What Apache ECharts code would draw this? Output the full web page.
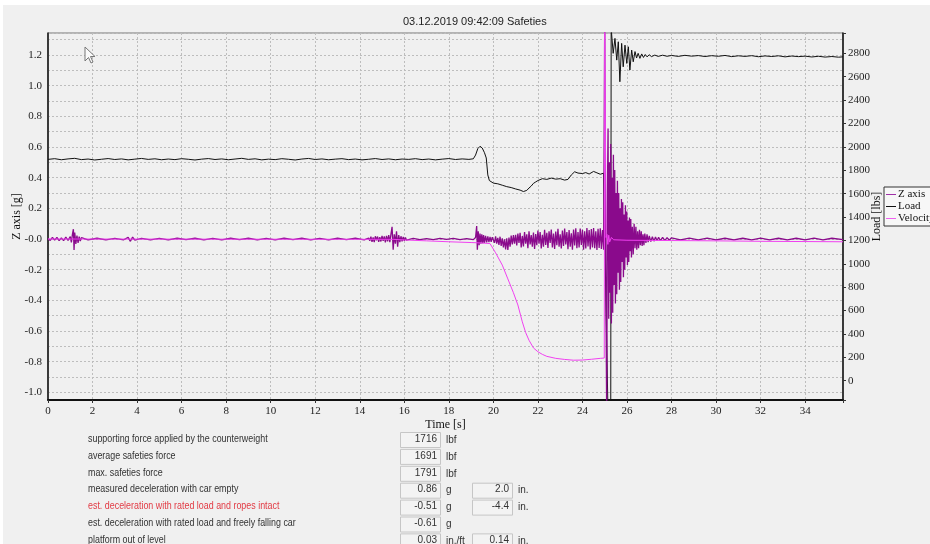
<!DOCTYPE html>
<html>
<head>
<meta charset="utf-8">
<title>Safeties</title>
<script src="https://cdn.jsdelivr.net/npm/echarts@6/dist/echarts.min.js"></script>
<style>
  html, body { margin: 0; padding: 0; background: #f0f0f0; }
  #chart { width: 930px; height: 544px; }
</style>
</head>
<body>
<div id="chart"></div>
<script>
// ---- measured signals: [time s, value] ----
// Z axis acceleration [g]
const zAxisG = [
  [0,0.004],[0.1,-0.009],[0.2,0.011],[0.3,-0.007],[0.4,0.01],[0.5,-0.011],[0.6,0.008],[0.7,-0.01],[0.8,0.012],[0.9,-0.009],
  [1.0,0.016],[1.05,-0.022],[1.1,0.034],[1.14,0.064],[1.17,-0.072],[1.2,0.042],[1.25,-0.032],[1.3,0.022],[1.35,-0.026],[1.4,0.016],[1.45,-0.013],[1.5,0.009],
  [1.8,-0.006],[2.2,0.005],[2.6,-0.005],[3.0,0.004],[3.4,-0.005],[3.6,0.011],[3.7,-0.015],[3.8,0.012],[3.9,-0.007],[4.2,0.004],[4.6,-0.005],[5.0,0.004],
  [5.4,-0.005],[5.8,0.005],[6.2,-0.004],[6.6,0.005],[7.0,-0.005],[7.4,0.004],[7.8,-0.005],[8.2,0.005],[8.6,-0.004],[9.0,0.005],[9.4,-0.005],[9.8,0.004],
  [10.2,-0.005],[10.6,0.005],[11.0,-0.004],[11.4,0.005],[11.8,-0.005],[12.2,0.004],[12.6,-0.005],[13.0,0.005],[13.4,-0.004],[13.8,0.005],[14.2,-0.005],
  [14.4,0.006],[14.45,-0.012],[14.5,0.015],[14.55,-0.018],[14.6,0.01],[14.65,-0.02],[14.7,0.018],[14.75,-0.008],[14.8,0.016],[14.85,-0.019],
  [14.9,0.012],[14.95,-0.016],[15.0,0.02],[15.05,-0.012],[15.1,0.017],[15.15,-0.022],[15.2,0.02],[15.25,-0.015],[15.3,0.025],[15.35,-0.02],
  [15.4,0.03],[15.45,0.08],[15.5,-0.07],[15.55,0.03],[15.6,-0.03],[15.65,0.05],[15.7,-0.05],[15.75,0.025],[15.8,-0.02],[15.85,0.018],
  [15.9,-0.016],[15.95,0.014],[16.0,-0.012],[16.05,0.01],[16.1,-0.008],
  [16.4,0.004],[16.7,-0.004],[17.0,0.003],[17.3,-0.004],[17.6,0.004],[17.9,-0.003],[18.2,0.004],[18.5,-0.004],[18.8,0.003],[19.1,-0.004],
  [19.2,0.01],[19.25,0.085],[19.28,-0.07],[19.32,0.05],[19.36,-0.04],[19.4,0.035],[19.44,-0.03],[19.48,0.03],[19.52,-0.028],[19.56,0.025],
  [19.6,-0.026],[19.65,0.02],[19.7,-0.022],[19.75,0.018],[19.8,-0.02],[19.85,0.014],[19.9,-0.018],[19.95,0.012],
  [20.0,0.012],[20.05,-0.025],[20.1,0.018],[20.15,-0.03],[20.2,0.008],[20.25,-0.038],[20.3,0.015],[20.35,-0.045],[20.4,0.005],[20.45,-0.055],
  [20.5,-0.002],[20.55,-0.068],[20.6,0.004],[20.65,-0.072],[20.7,0.01],[20.75,-0.05],[20.8,0.022],[20.85,-0.035],[20.9,0.025],[20.95,-0.03],
  [21.0,0.028],[21.05,-0.042],[21.1,0.035],[21.15,-0.025],[21.2,0.04],[21.25,-0.055],[21.3,0.02],[21.35,-0.048],[21.4,0.045],[21.45,-0.03],
  [21.5,0.03],[21.55,-0.06],[21.6,0.05],[21.65,-0.035],[21.7,0.025],[21.75,-0.05],[21.8,0.042],[21.85,-0.065],[21.9,0.032],[21.95,-0.04],
  [22.0,0.055],[22.05,-0.03],[22.1,0.045],[22.15,-0.062],[22.2,0.028],[22.25,-0.05],[22.3,0.06],[22.35,-0.038],[22.4,0.04],[22.45,-0.058],
  [22.5,0.05],[22.55,-0.025],[22.6,0.062],[22.65,-0.055],[22.7,0.035],[22.75,-0.065],[22.8,0.048],[22.85,-0.04],[22.9,0.066],[22.95,-0.05],
  [23.0,0.03],[23.05,-0.062],[23.1,0.055],[23.15,-0.045],[23.2,0.068],[23.25,-0.035],[23.3,0.045],[23.35,-0.066],[23.4,0.058],[23.45,-0.05],
  [23.5,0.038],[23.55,-0.07],[23.6,0.062],[23.65,-0.042],[23.7,0.07],[23.75,-0.06],[23.8,0.045],[23.85,-0.055],[23.9,0.068],[23.95,-0.038],
  [24.0,0.06],[24.05,-0.07],[24.1,0.05],[24.15,-0.062],[24.2,0.072],[24.25,-0.048],[24.3,0.058],[24.35,-0.068],[24.4,0.065],[24.45,-0.055],
  [24.5,0.072],[24.55,-0.06],[24.6,0.05],[24.65,-0.072],[24.7,0.066],[24.75,-0.058],[24.8,0.07],[24.85,-0.065],[24.9,0.058],[24.95,-0.07],
  [25.0,1.45],[25.03,0.25],[25.06,-0.5],[25.09,-1.2],[25.12,0.3],[25.15,0.72],[25.18,-0.52],[25.21,0.5],[25.24,-0.35],[25.27,0.62],
  [25.3,-0.55],[25.33,0.4],[25.36,-0.48],[25.39,0.55],[25.42,-0.3],[25.45,0.45],[25.48,-0.42],[25.51,0.3],[25.54,-0.36],[25.57,0.38],
  [25.6,-0.22],[25.63,0.3],[25.66,-0.33],[25.69,0.2],[25.72,-0.28],[25.75,0.26],[25.78,-0.15],[25.81,0.24],[25.84,-0.25],[25.87,0.16],
  [25.9,-0.2],[25.93,0.22],[25.96,-0.12],[25.99,0.18],[26.02,-0.17],[26.05,0.12],[26.08,-0.15],[26.11,0.14],[26.14,-0.08],[26.17,0.13],
  [26.2,-0.12],[26.24,0.08],[26.28,-0.1],[26.32,0.1],[26.36,-0.06],[26.4,0.08],[26.44,-0.07],[26.48,0.05],[26.52,-0.06],[26.56,0.06],
  [26.6,-0.04],[26.64,0.05],[26.68,-0.045],[26.72,0.03],[26.76,-0.04],[26.8,0.035],[26.85,-0.025],[26.9,0.03],[26.95,-0.02],[27.0,0.02],
  [27.07,-0.016],[27.14,0.015],[27.21,-0.014],[27.28,0.013],[27.35,-0.012],[27.42,0.012],[27.5,-0.011],[27.6,0.01],[27.7,-0.01],[27.8,0.009],
  [27.9,-0.008],[28.0,0.008],
  [28.4,-0.006],[28.8,0.006],[29.2,-0.005],[29.6,0.006],[30.0,-0.006],[30.4,0.005],[30.8,-0.006],[31.2,0.005],[31.6,-0.005],[32.0,0.006],
  [32.4,-0.005],[32.8,0.005],[33.2,-0.006],[33.6,0.005],[34.0,-0.005],[34.4,0.006],[34.8,-0.005],[35.2,0.005],[35.7,-0.004]
];

// Load [lbs]
const loadLbs = [
  [0,1893],[0.3,1899],[0.6,1890],[0.9,1897],[1.2,1902],[1.5,1891],[1.8,1896],[2.1,1888],[2.4,1894],[2.7,1900],[3.0,1892],[3.3,1897],
  [3.6,1889],[3.9,1895],[4.2,1901],[4.5,1893],[4.8,1898],[5.1,1890],[5.4,1896],[5.7,1891],[6.0,1899],[6.3,1894],[6.6,1888],[6.9,1895],
  [7.2,1900],[7.5,1892],[7.8,1897],[8.1,1890],[8.4,1896],[8.7,1902],[9.0,1893],[9.3,1898],[9.6,1889],[9.9,1895],[10.2,1891],[10.5,1899],
  [10.8,1894],[11.1,1888],[11.4,1896],[11.7,1901],[12.0,1892],[12.3,1897],[12.6,1890],[12.9,1895],[13.2,1899],[13.5,1891],[13.8,1896],
  [14.1,1889],[14.4,1894],[14.7,1900],[15.0,1892],[15.3,1897],[15.6,1890],[15.9,1896],[16.2,1893],[16.5,1899],[16.8,1891],[17.1,1896],
  [17.4,1889],[17.7,1895],[18.0,1900],[18.3,1892],[18.6,1897],[18.9,1893],[19.1,1898],
  [19.2,1930],[19.3,1985],[19.4,2005],[19.5,1990],[19.6,1950],[19.68,1905],[19.75,1760],[19.82,1712],[19.9,1700],[20.0,1690],
  [20.2,1684],[20.4,1672],[20.6,1660],[20.8,1652],[21.0,1640],[21.2,1630],[21.35,1618],[21.5,1628],[21.6,1648],[21.7,1665],
  [21.8,1688],[21.9,1700],[22.0,1712],[22.2,1728],[22.4,1722],[22.6,1733],[22.8,1724],[23.0,1728],[23.2,1716],[23.35,1722],
  [23.5,1760],[23.65,1787],[23.8,1776],[24.0,1772],[24.15,1780],[24.3,1768],[24.5,1790],[24.65,1778],[24.8,1766],[24.95,1775],
  [25.02,1778],[25.15,-300],[25.27,-300],[25.29,3100],[25.31,2965],[25.38,2800],[25.46,2928],[25.54,2742],[25.61,2899],[25.68,2557],
  [25.76,2885],[25.83,2685],[25.91,2870],[25.99,2714],[26.06,2856],[26.13,2657],[26.21,2828],[26.28,2728],[26.36,2815],[26.43,2760],
  [26.5,2800],[26.58,2757],[26.66,2795],[26.74,2765],[26.82,2790],[26.9,2770],[27.0,2788],[27.1,2772],[27.25,2785],[27.4,2774],
  [27.6,2784],[27.8,2775],[28.0,2782],[28.3,2774],[28.6,2783],[28.9,2776],[29.2,2781],[29.5,2773],[29.8,2780],[30.1,2775],
  [30.4,2782],[30.7,2772],[31.0,2779],[31.3,2774],[31.6,2780],[31.9,2771],[32.2,2778],[32.5,2773],[32.8,2779],[33.1,2770],
  [33.4,2777],[33.7,2772],[34.0,2776],[34.3,2769],[34.6,2775],[34.9,2768],[35.2,2773],[35.5,2767],[35.7,2770]
];

// Velocity (plotted against the left scale)
const velocity = [
  [0,0],[15.5,-0.002],[16.0,-0.006],[17.0,-0.012],[18.0,-0.018],[19.0,-0.023],[19.5,-0.026],[19.85,-0.03],
  [20.1,-0.09],[20.4,-0.17],[20.65,-0.26],[20.9,-0.35],[21.1,-0.43],[21.3,-0.54],[21.45,-0.61],[21.6,-0.66],
  [21.8,-0.71],[22.0,-0.735],[22.2,-0.752],[22.4,-0.765],[22.8,-0.778],[23.2,-0.785],[23.6,-0.79],[24.0,-0.789],
  [24.4,-0.784],[24.8,-0.778],[24.98,-0.776],[25.0,1.45],[25.06,0.01],[25.1,0.03],[25.14,-0.035],[25.18,0.025],
  [25.22,-0.02],[25.3,0.01],[25.4,-0.005],[26.0,-0.008],[28.0,-0.01],[30.0,-0.012],[32.0,-0.015],[35.7,-0.018]
];

// ---- axis ticks ----
const timeTicks = [0,2,4,6,8,10,12,14,16,18,20,22,24,26,28,30,32,34];
const zTickValues = [-1.0,-0.8,-0.6,-0.4,-0.2,0,0.2,0.4,0.6,0.8,1.0,1.2];
const zTickLabels = ['-1.0','-0.8','-0.6','-0.4','-0.2','-0.0','0.2','0.4','0.6','0.8','1.0','1.2'];
const loadTicks = [0,200,400,600,800,1000,1200,1400,1600,1800,2000,2200,2400,2600,2800];

// ---- result table below the chart ----
const resultLabels = [
  'supporting force applied by the counterweight',
  'average safeties force',
  'max. safeties force',
  'measured deceleration with car empty',
  'est. deceleration with rated load and ropes intact',
  'est. deceleration with rated load and freely falling car',
  'platform out of level'
];
const resultValues = ['1716','1691','1791','0.86','-0.51','-0.61','0.03'];
const resultUnits = ['lbf','lbf','lbf','g','g','g','in./ft'];
const resultValues2 = ['','','','2.0','-4.4','','0.14'];
const resultUnits2 = ['','','','in.','in.','','in.'];
const highlightedRow = 4;

const serif = "'Liberation Serif', 'DejaVu Serif', serif";
const sans = "'Liberation Sans', Arial, sans-serif";

function labelFrom(values, labels) {
  return function (v) {
    const i = values.findIndex(t => Math.abs(t - v) < 1e-6);
    return i < 0 ? '' : labels[i];
  };
}

// table graphics
const tableItems = [];
resultLabels.forEach((txt, i) => {
  const cy = 440 + i * 16.9;
  const color = i === highlightedRow ? '#e23a44' : '#333';
  tableItems.push({ type: 'text', x: 88, y: cy - 6, scaleX: 0.89,
    style: { text: txt, fill: color, font: '10px ' + sans } });
  tableItems.push({ type: 'rect', shape: { x: 400.5, y: cy - 7.5, width: 40, height: 15 },
    style: { fill: '#f3f3f3', stroke: '#c6c6c6', lineWidth: 1 } });
  tableItems.push({ type: 'text', x: 437, y: cy - 6,
    style: { text: resultValues[i], fill: '#333', font: '10px ' + sans, textAlign: 'right' } });
  tableItems.push({ type: 'text', x: 446, y: cy - 5,
    style: { text: resultUnits[i], fill: '#333', font: '10px ' + sans } });
  if (resultValues2[i]) {
    tableItems.push({ type: 'rect', shape: { x: 472.5, y: cy - 7.5, width: 40, height: 15 },
      style: { fill: '#f3f3f3', stroke: '#c6c6c6', lineWidth: 1 } });
    tableItems.push({ type: 'text', x: 509, y: cy - 6,
      style: { text: resultValues2[i], fill: '#333', font: '10px ' + sans, textAlign: 'right' } });
    tableItems.push({ type: 'text', x: 518, y: cy - 5,
      style: { text: resultUnits2[i], fill: '#333', font: '10px ' + sans } });
  }
});

const chart = echarts.init(document.getElementById('chart'), null, { renderer: 'canvas' });

chart.setOption({
  animation: false,
  backgroundColor: '#f0f0f0',
  title: {
    text: '03.12.2019 09:42:09 Safeties',
    left: 398, top: 11,
    textStyle: { fontFamily: sans, fontSize: 11, fontWeight: 'normal', color: '#222' }
  },
  legend: {
    orient: 'vertical',
    left: 884, top: 187,
    padding: [2, 4, 2, 2],
    itemGap: 1,
    itemWidth: 10, itemHeight: 1,
    icon: 'rect',
    backgroundColor: '#f7f7f7',
    borderColor: '#333', borderWidth: 1, borderRadius: 0,
    textStyle: { fontFamily: serif, fontSize: 11, color: '#111', padding: [0, 0, 0, -3] },
    data: ['Z axis', 'Load', 'Velocity']
  },
  grid: {
    left: 48, right: 87, top: 33, bottom: 144,
    outerBoundsMode: 'none', containLabel: false,
    show: true, borderColor: '#777', borderWidth: 1, backgroundColor: '#f0f0f0'
  },
  xAxis: {
    type: 'value', min: 0, max: 35.7, splitNumber: 18,
    name: 'Time [s]', nameLocation: 'middle', nameGap: 19, nameMoveOverlap: false,
    nameTextStyle: { fontFamily: serif, fontSize: 12, color: '#111' },
    axisLine: { show: true, onZero: false, lineStyle: { color: '#111', width: 2 } },
    axisTick: { show: true, length: 3, lineStyle: { color: '#333' } },
    axisLabel: { fontFamily: serif, fontSize: 11, color: '#222', margin: 6,
      formatter: labelFrom(timeTicks, timeTicks.map(String)) },
    splitLine: { show: true, lineStyle: { color: '#bdbdbd', type: [2, 2], width: 1 } }
  },
  yAxis: [
    {
      type: 'value', min: -1.0495, max: 1.343, splitNumber: 24, position: 'left',
      name: 'Z axis [g]', nameLocation: 'middle', nameGap: 25, nameRotate: 90, nameMoveOverlap: false,
      nameTextStyle: { fontFamily: serif, fontSize: 12, color: '#111' },
      axisLine: { show: true, onZero: false, lineStyle: { color: '#111', width: 1.5 } },
      axisTick: { show: false },
      axisLabel: { fontFamily: serif, fontSize: 11, color: '#222', margin: 6,
        formatter: labelFrom(zTickValues, zTickLabels) },
      splitLine: { show: true, lineStyle: { color: '#bdbdbd', type: [2, 2], width: 1 } }
    },
    {
      type: 'value', min: -165, max: 2974, splitNumber: 16, position: 'right',
      name: 'Load [lbs]', nameLocation: 'middle', nameGap: 28, nameRotate: 90, nameMoveOverlap: false,
      nameTextStyle: { fontFamily: serif, fontSize: 12, color: '#111' },
      axisLine: { show: true, onZero: false, lineStyle: { color: '#111', width: 1.5 } },
      axisTick: { show: true, length: 3, lineStyle: { color: '#333' } },
      axisLabel: { fontFamily: serif, fontSize: 11, color: '#222', margin: 5,
        formatter: labelFrom(loadTicks, loadTicks.map(String)) },
      splitLine: { show: false }
    }
  ],
  series: [
    {
      name: 'Load', type: 'line', yAxisIndex: 1, data: loadLbs,
      showSymbol: false, symbol: 'none', clip: true,
      lineStyle: { color: '#111', width: 1 }, itemStyle: { color: '#111' }, z: 2
    },
    {
      name: 'Z axis', type: 'line', yAxisIndex: 0, data: zAxisG,
      showSymbol: false, symbol: 'none', clip: true,
      lineStyle: { color: '#8a0a8c', width: 1.3 }, itemStyle: { color: '#a030a8' }, z: 3
    },
    {
      name: 'Velocity', type: 'line', yAxisIndex: 0, data: velocity,
      showSymbol: false, symbol: 'none', clip: true,
      lineStyle: { color: '#f040f0', width: 1 }, itemStyle: { color: '#f060f0' }, z: 4
    }
  ],
  graphic: [
    { type: 'rect', shape: { x: 0, y: 0, width: 930, height: 5 }, style: { fill: '#ffffff' }, silent: true },
    { type: 'rect', shape: { x: 0, y: 0, width: 3, height: 544 }, style: { fill: '#ffffff' }, silent: true },
    // mouse pointer left on the screen
    { type: 'polygon', z: 20,
      shape: { points: [[85,47],[85,61],[88.5,57.5],[91,63],[93,62],[90.5,56.5],[95,56.5]] },
      style: { fill: '#fafafa', stroke: '#777', lineWidth: 1 } },
    ...tableItems
  ]
});
</script>
</body>
</html>
